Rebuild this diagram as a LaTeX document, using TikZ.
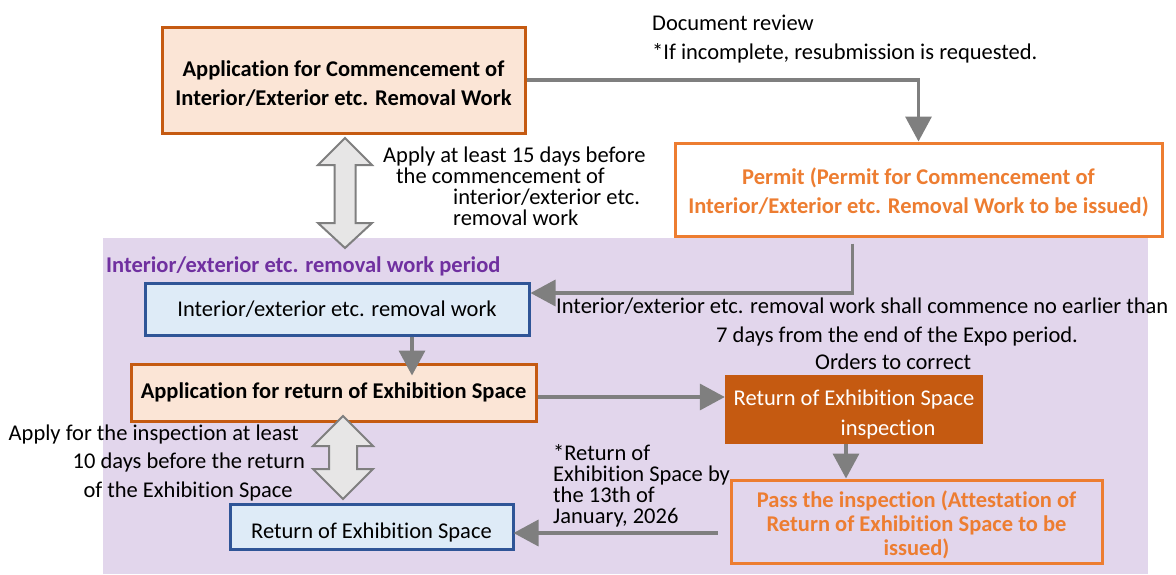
\documentclass[tikz,border=0pt]{standalone}
\usepackage{fontspec}
\setmainfont{Carlito}[Ligatures=NoCommon]
\usetikzlibrary{arrows.meta}
\usepackage{xcolor}

\definecolor{appedge}{HTML}{C55A11}
\definecolor{appfill}{HTML}{FBE5D6}
\definecolor{permitorange}{HTML}{ED7D31}
\definecolor{workedge}{HTML}{2F5597}
\definecolor{workfill}{HTML}{DEEBF7}
\definecolor{periodbg}{HTML}{E2D6EC}
\definecolor{periodtext}{HTML}{7030A0}
\definecolor{arrowgray}{HTML}{7F7F7F}
\definecolor{blockfill}{HTML}{E7E6E6}

\begin{document}
\begin{tikzpicture}[x=1pt,y=-1pt,
  every node/.style={inner sep=0pt, font=\fontsize{22.5}{29}\selectfont},
  appbox/.style={draw=appedge, fill=appfill, line width=3pt, align=center, font=\fontsize{22.5}{29}\selectfont\bfseries},
  workbox/.style={draw=workedge, fill=workfill, line width=3pt},
  permitbox/.style={draw=permitorange, line width=3pt, align=center, text=permitorange, font=\fontsize{22.5}{29}\selectfont\bfseries},
  note/.style={text height=16pt, text depth=2pt},
  conn/.style={draw=arrowgray, line width=3.5pt, -{Triangle[width=26pt,length=25pt]}},
  blockarrow/.style={draw=arrowgray, fill=blockfill, line width=2pt, line join=miter}]
\useasboundingbox (0,0) rectangle (1176,574);
%\draw[help lines,step=50] (0,0) grid (1176,574);

% removal work period
\fill[periodbg] (103,238) rectangle (1148,574);

\node[appbox, minimum width=363, minimum height=106] (comm) at (343.5,80) {\rule{0pt}{23pt}Application for Commencement of\\Interior/Exterior etc. Removal Work};
\node[permitbox, fill=white, minimum width=487, minimum height=93] (permit) at (918.5,189.5) {\rule{0pt}{23pt}Permit (Permit for Commencement of\\Interior/Exterior etc. Removal Work to be issued)};

\node[note, anchor=west] (review) at (652,23) {Document review};
\node[note, anchor=west] (resub) at (652,52) {*If incomplete, resubmission is requested.};

\node[note, anchor=west] (lead1) at (383,155) {Apply at least 15 days before};
\node[note, anchor=west] (lead2) at (396,176) {the commencement of};
\node[note, anchor=west] (lead3) at (453,197) {interior/exterior etc.};
\node[note, anchor=west] (lead4) at (453,218) {removal work};

\node[note, anchor=west, text=periodtext, font=\fontsize{22.5}{29}\selectfont\bfseries] (period) at (106,265) {Interior/exterior etc. removal work period};

\node[workbox, minimum width=384, minimum height=52] (work) at (337,309) {Interior/exterior etc. removal work};
\node[appbox, minimum width=405, minimum height=57] (retapp) at (333.5,392.5) {Application for return of Exhibition Space};
\node[fill=appedge, text=white, align=center, minimum width=258, minimum height=69, font=\fontsize{22.5}{30}\selectfont] (insp) at (854,409.5) {\rule{0pt}{25pt}Return of Exhibition Space\\\hspace*{68pt}inspection};
\node[permitbox, minimum width=371, minimum height=83, font=\fontsize{22.5}{24}\selectfont\bfseries] (pass) at (916.5,521.5) {\rule{0pt}{23pt}Pass the inspection (Attestation of\\Return of Exhibition Space to be\\issued)};
\node[workbox, minimum width=283, minimum height=45] (ret) at (371.5,526.5) {\rule{0pt}{28pt}Return of Exhibition Space};

\node[note, anchor=west] (start1) at (556,306) {Interior/exterior etc. removal work shall commence no earlier than};
\node[note, anchor=west] (start2) at (716,335) {7 days from the end of the Expo period.};
\node[note, anchor=west] (orders) at (815,362) {Orders to correct};

\node[note, anchor=east] (insp1) at (299,433) {Apply for the inspection at least};
\node[note, anchor=east] (insp2) at (305,461) {10 days before the return};
\node[note, anchor=east] (insp3) at (293,490) {of the Exhibition Space};

\node[anchor=west, align=left, font=\fontsize{22.5}{21}\selectfont] (deadline) at (553,486) {*Return of\\Exhibition Space by\\the 13th of\\January, 2026};

% connectors
\draw[conn] (comm.east) -| (permit.north);
\draw[conn] ([xshift=-66pt,yshift=-6pt]permit.south) |- ([yshift=16pt]work.east);
\draw[conn, shorten >=-13pt] ([xshift=75pt]work.south) -- ([xshift=78.5pt]retapp.north);
\draw[conn] ([yshift=-4.5pt]retapp.east) -- ([yshift=-4.5pt]retapp.east -| insp.west);
\draw[conn] ([xshift=-8pt]insp.south) -- ([xshift=-8pt]insp.south |- pass.north);
\draw[conn, shorten >=11pt] ([xshift=-12pt,yshift=-11.5pt]pass.west) -- ([xshift=-12pt,yshift=-11.5pt]pass.west -| ret.east);

% block double arrows
\draw[blockarrow] (345,138) -- (372,165) -- (355.5,165) -- (355.5,223) -- (372,223) -- (345,248) -- (318,223) -- (334.5,223) -- (334.5,165) -- (318,165) -- cycle;
\draw[blockarrow] (343,416) -- (373,446) -- (357,446) -- (357,469) -- (373,469) -- (343,499) -- (313,469) -- (329,469) -- (329,446) -- (313,446) -- cycle;
\end{tikzpicture}
\end{document}
